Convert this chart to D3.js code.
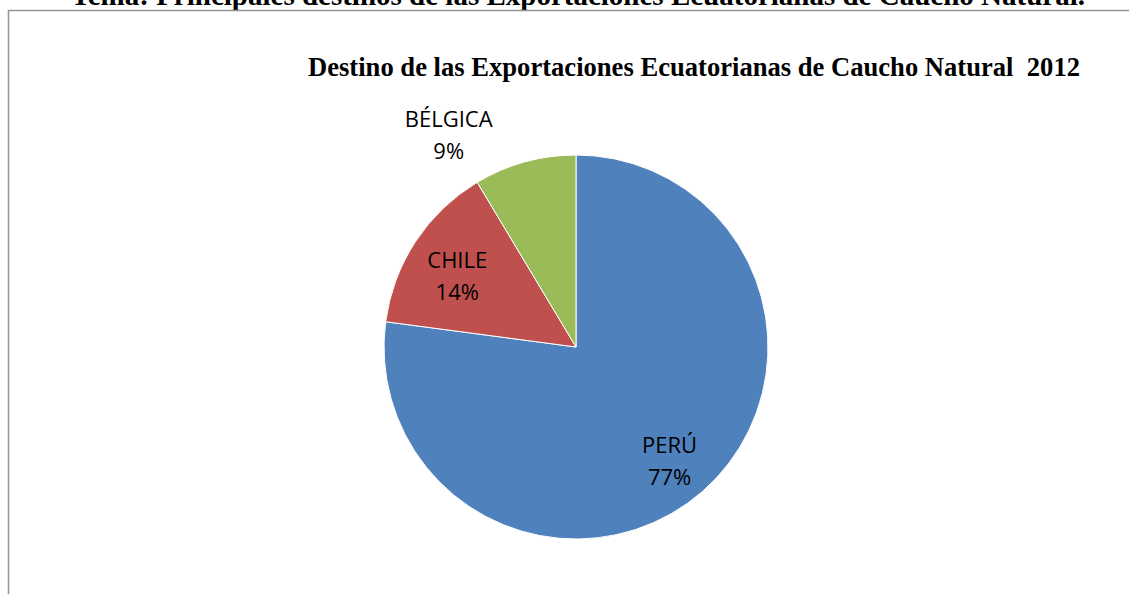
<!DOCTYPE html>
<html>
<head>
<meta charset="utf-8">
<script src="https://cdn.jsdelivr.net/npm/d3@7"></script>
<style>
  body { margin: 0; background: #fff; overflow: hidden; }
  svg { display: block; }
</style>
</head>
<body>
<div id="chart"></div>
<script>
// data
var countries = ["PERÚ", "CHILE", "BÉLGICA"]
var shares = [77.1, 14.3, 8.6]
var shareLabels = ["77%", "14%", "9%"]
var colors = ["#4F81BD", "#C0504D", "#9BBB59"]

var width = 1129, height = 594

var svg = d3.select("#chart").append("svg")
    .attr("width", width)
    .attr("height", height)

// page heading, cut off at the top
svg.append("text")
    .attr("x", 578)
    .attr("y", 5)
    .attr("text-anchor", "middle")
    .style("font-family", "'Liberation Serif', 'Times New Roman', serif")
    .style("font-weight", "bold")
    .style("font-size", "29px")
    .text("Tema: Principales destinos de las Exportaciones Ecuatorianas de Caucho Natural.")

// chart frame, only top and left edges are in view
svg.append("path")
    .attr("d", "M8.5," + height + "V10.5H" + width)
    .attr("fill", "none")
    .attr("stroke", "#959595")
    .attr("stroke-width", 1.5)

svg.append("text")
    .attr("x", 694)
    .attr("y", 76)
    .attr("text-anchor", "middle")
    .style("font-family", "'Liberation Serif', 'Times New Roman', serif")
    .style("font-weight", "bold")
    .style("font-size", "26.6px")
    .style("white-space", "pre")
    .text("Destino de las Exportaciones Ecuatorianas de Caucho Natural  2012")

var cx = 576, cy = 347, r = 192

var data = countries.map(function(c, i){
    return { name: c, value: shares[i], label: shareLabels[i], color: colors[i] }
})

var pie = d3.pie()
    .sort(null)
    .value(function(d){ return d.value })

var arcs = pie(data)

var arc = d3.arc().innerRadius(0).outerRadius(r)
var labelArc = d3.arc().innerRadius(r * 0.74).outerRadius(r * 0.74)

var g = svg.append("g").attr("transform", "translate(" + cx + "," + cy + ")")

g.selectAll(".slice")
    .data(arcs)
    .enter().append("path")
    .attr("class", "slice")
    .attr("d", arc)
    .attr("fill", function(d){ return d.data.color })
    .attr("stroke", "#fff")
    .attr("stroke-width", 1)

// small slices get their label outside the pie
function isOutside(d){ return (d.endAngle - d.startAngle) < 0.1 * 2 * Math.PI }

var labels = g.selectAll(".lbl")
    .data(arcs)
    .enter().append("text")
    .attr("class", "lbl")
    .attr("text-anchor", "middle")
    .style("font-family", "'Open Sans', 'Noto Sans', sans-serif")
    .style("font-size", "22px")
    .attr("fill", "#000")

labels.each(function(d){
    var t = d3.select(this)
    var p
    if (isOutside(d)) {
        var a = (d.startAngle + d.endAngle) / 2
        var outR = r * 1.04
        // box sits outside, bottom-right corner near the rim
        p = [Math.sin(a) * outR - 74, -Math.cos(a) * outR - 25]
    } else {
        p = labelArc.centroid(d)
        p[1] += 2
    }
    t.append("tspan").attr("x", p[0]).attr("y", p[1] - 3).text(d.data.name)
    t.append("tspan").attr("x", p[0]).attr("y", p[1] + 29).text(d.data.label)
})
</script>
</body>
</html>
